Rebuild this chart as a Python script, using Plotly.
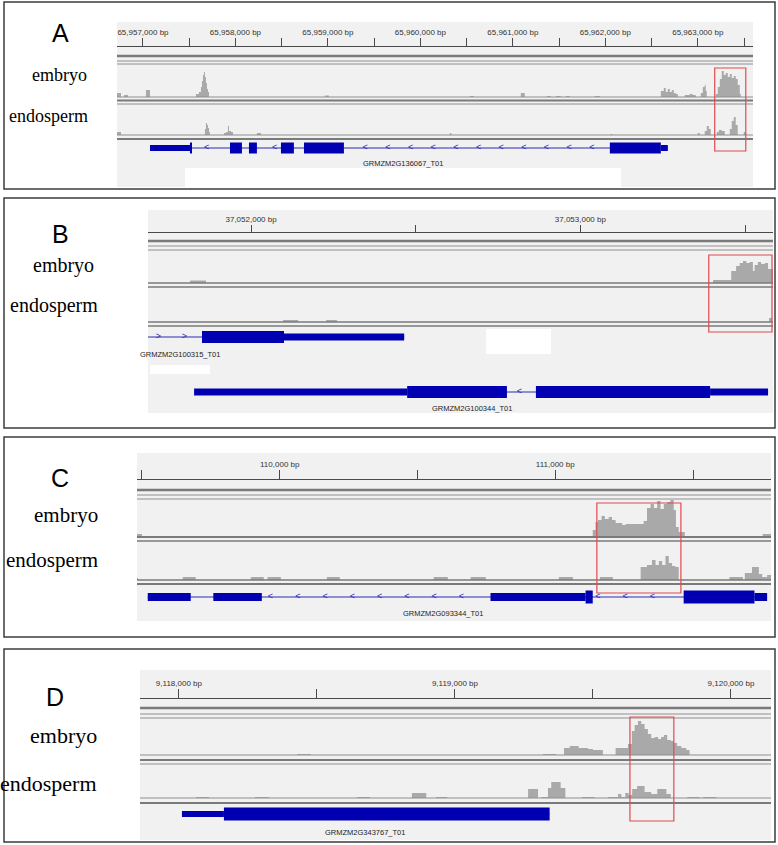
import plotly.graph_objects as go

W, H = 778, 845

# ======================= DATA =======================
# ---------- Panel A ----------
A_range = [65956719, 65963597]
A_major = [65957000, 65958000, 65959000, 65960000, 65961000, 65962000, 65963000]
A_minor = [65957500, 65958500, 65959500, 65960500, 65961500, 65962500, 65963500]
A_emb_pos = [65956719, 65956762, 65956795, 65956838, 65957032, 65957076, 65957573, 65957605,
             65957627, 65957638, 65957649, 65957659, 65957670, 65957681, 65957692, 65957703,
             65957714, 65958967, 65959011, 65960535, 65960578, 65961086, 65961129, 65961367,
             65961410, 65961465, 65961519, 65961573, 65961616, 65961886, 65961940, 65962600,
             65962632, 65962654, 65962675, 65962697, 65962719, 65962740, 65962762, 65962784,
             65962859, 65962913, 65962946, 65962978, 65963032, 65963054, 65963075, 65963086,
             65963097, 65963194, 65963216, 65963238, 65963259, 65963281, 65963302, 65963324,
             65963346, 65963367, 65963389, 65963410, 65963432, 65963454, 65963465]
A_emb_depth = [4, 0, 2, 0, 7, 0, 3, 5, 10, 16, 22, 25, 20, 14, 8, 5, 0, 1.5, 0, 1, 0, 4, 0,
               1, 0, 1, 0, 1, 0, 1, 0, 6, 9, 5, 8, 5, 7, 4, 3, 0, 2, 3, 2, 0, 4, 10, 12, 6, 0,
               3, 10, 18, 26, 22, 24, 20, 23, 19, 21, 18, 12, 3, 0]
A_end_pos = [65956719, 65956762, 65957670, 65957681, 65957692, 65957703, 65957714, 65957724,
             65957876, 65957897, 65957919, 65957930, 65957951, 65957973, 65958232, 65958276,
             65960319, 65960335, 65962059, 65962075, 65962999, 65963021, 65963075, 65963097,
             65963119, 65963140, 65963205, 65963227, 65963259, 65963292, 65963346, 65963367,
             65963389, 65963410, 65963432, 65963497, 65963519]
A_end_depth = [3, 0, 6, 12, 10, 7, 3, 0, 2, 3, 9, 4, 3, 0, 2, 0, 2, 0, 1, 0, 2, 0, 4, 9, 6, 0,
               3, 5, 4, 0, 6, 14, 18, 10, 0, 3, 0]
A_gene_names = ["GRMZM2G136067_T01"]
A_gene_strand = ["-"]
A_gene_start = [65957076]
A_gene_end = [65962676]
A_cds_start = [[65957508, 65957941, 65958146, 65958492, 65958741, 65962049]]
A_cds_end = [[65957530, 65958070, 65958232, 65958632, 65959173, 65962600]]
A_utr_start = [[65957076, 65962600]]
A_utr_end = [[65957508, 65962676]]
A_label_pos = [65959812]
A_highlight = [65963183, 65963519]

# ---------- Panel B ----------
B_range = [37051687, 37053585]
B_major = [37052000, 37053000]
B_minor = [37052500, 37053500]
B_emb_pos = [37051815, 37051863, 37053403, 37053458, 37053473, 37053484, 37053494, 37053504,
             37053514, 37053524, 37053529, 37053539, 37053549, 37053560, 37053570, 37053585]
B_emb_depth = [2.5, 0, 3, 12, 17, 20, 22, 20, 21, 12, 18, 21, 19, 20, 14, 0]
B_end_pos = [37052097, 37052143, 37052228, 37052261, 37053573, 37053582]
B_end_depth = [2, 0, 2, 0, 4, 0]
B_gene_names = ["GRMZM2G100315_T01", "GRMZM2G100344_T01"]
B_gene_strand = ["+", "-"]
B_gene_start = [37051600, 37051827]
B_gene_end = [37052465, 37053570]
B_cds_start = [[37051851], [37052474, 37052865]]
B_cds_end = [[37052100], [37052777, 37053394]]
B_utr_start = [[37052100], [37051827, 37053394]]
B_utr_end = [[37052465], [37052474, 37053570]]
B_label_pos = [37051784, 37052671]
B_highlight = [37053390, 37053582]

# ---------- Panel C ----------
C_range = [109482, 111783]
C_major = [110000, 111000]
C_minor = [109500, 110500, 111500]
C_emb_pos = [109482, 109500, 111136, 111146, 111155, 111168, 111180, 111194, 111206, 111219,
             111243, 111255, 111291, 111321, 111333, 111346, 111358, 111370, 111382, 111394,
             111406, 111418, 111430, 111438, 111448, 111470, 111753, 111783]
C_emb_depth = [3, 0, 7, 15, 17, 21, 18, 20, 17, 14, 12, 13, 13, 16, 29, 33, 29, 36, 28, 33,
               35, 37, 27, 10, 5, 0, 3, 0]
C_end_pos = [109482, 109486, 109648, 109695, 109895, 109942, 109956, 110004, 110171, 110218,
             110559, 110610, 110693, 110748, 111013, 111064, 111162, 111209, 111310, 111333,
             111351, 111364, 111376, 111388, 111400, 111412, 111424, 111436, 111448, 111632,
             111681, 111688, 111714, 111739, 111751, 111769, 111783]
C_end_depth = [2, 0, 3, 0, 3, 0, 3, 0, 3, 0, 3, 0, 3, 0, 3, 0, 3, 0, 13, 15, 20, 15, 19, 15,
               24, 17, 14, 13, 0, 3, 0, 7, 13, 6, 3, 5, 0]
C_gene_names = ["GRMZM2G093344_T01"]
C_gene_strand = ["-"]
C_gene_start = [109521]
C_gene_end = [111769]
C_cds_start = [[111110, 111466]]
C_cds_end = [[111136, 111723]]
C_utr_start = [[109521, 109759, 110765, 111723]]
C_utr_end = [[109677, 109935, 111110, 111769]]
C_label_pos = [110592]
C_highlight = [111151, 111456]

# ---------- Panel D ----------
D_range = [9117859, 9120145]
D_major = [9118000, 9119000, 9120000]
D_minor = [9118500, 9119500]
D_emb_pos = [9118428, 9118478, 9119319, 9119367, 9119395, 9119416, 9119448, 9119482, 9119500,
             9119536, 9119582, 9119627, 9119641, 9119651, 9119663, 9119675, 9119687, 9119699,
             9119711, 9119724, 9119736, 9119747, 9119757, 9119769, 9119782, 9119793, 9119805,
             9119820, 9119838, 9119850]
D_emb_depth = [1, 0, 1, 0, 7, 9, 7, 6, 5, 0, 7, 11, 24, 30, 34, 31, 26, 21, 17, 18, 16, 18,
               20, 15, 14, 12, 9, 7, 5, 0]
D_end_pos = [9118062, 9118109, 9118275, 9118326, 9118645, 9118692, 9118844, 9118896, 9118932,
             9118972, 9119265, 9119301, 9119313, 9119337, 9119349, 9119383, 9119400, 9119460,
             9119506, 9119554, 9119591, 9119603, 9119617, 9119629, 9119642, 9119660, 9119687,
             9119711, 9119733, 9119766, 9119782, 9119842, 9119887, 9119899, 9119947]
D_end_depth = [1, 0, 1, 0, 1, 0, 5, 0, 1, 0, 9, 0, 1, 10, 16, 10, 0, 1, 0, 1, 4, 1, 5, 3, 9,
               12, 6, 4, 9, 4, 0, 1, 0, 1, 0]
D_gene_names = ["GRMZM2G343767_T01"]
D_gene_strand = ["+"]
D_gene_start = [9118011]
D_gene_end = [9119343]
D_cds_start = [[9118163]]
D_cds_end = [[9119343]]
D_utr_start = [[9118011]]
D_utr_end = [[9118163]]
D_label_pos = [9118674]
D_highlight = [9119634, 9119793]

# ======================= LAYOUT (pixel positions / styles) =======================
panels = [
    dict(letter="A", rng=A_range, major=A_major, minor=A_minor,
         emb=(A_emb_pos, A_emb_depth), end=(A_end_pos, A_end_depth),
         genes=(A_gene_names, A_gene_strand, A_gene_start, A_gene_end,
                A_cds_start, A_cds_end, A_utr_start, A_utr_end, A_label_pos),
         hl=A_highlight,
         box=(2, 189), bg=(117, 22, 753, 187), white=[(185, 168, 621, 187)],
         ruler=46, ticklen=8,
         lines=[(56, 2.5), (61, 1), (64, 1), (97, 1), (100.5, 2), (104, 1), (135, 1), (139, 2)],
         embY=(64, 97), endY=(104, 135), rows=[148], labY=[163], hlY=(68, 151),
         cdsH=11, utrH=6, step=245,
         letterXY=(60, 33), embXY=(89, 75), endXY=(90, 116), fs=18),
    dict(letter="B", rng=B_range, major=B_major, minor=B_minor,
         emb=(B_emb_pos, B_emb_depth), end=(B_end_pos, B_end_depth),
         genes=(B_gene_names, B_gene_strand, B_gene_start, B_gene_end,
                B_cds_start, B_cds_end, B_utr_start, B_utr_end, B_label_pos),
         hl=B_highlight,
         box=(198, 428), bg=(148, 210, 773, 413),
         white=[(486, 329, 551, 354), (150, 365, 210, 374)],
         ruler=232, ticklen=7,
         lines=[(241, 2.5), (246, 1), (250, 1), (283, 1.5), (287, 1.5), (322, 1.5), (326, 1.5)],
         embY=(250, 283), endY=(287, 322), rows=[337, 392], labY=[354, 408], hlY=(255, 332),
         cdsH=12, utrH=7, step=79,
         letterXY=(60, 234), embXY=(96, 265), endXY=(100, 305), fs=20),
    dict(letter="C", rng=C_range, major=C_major, minor=C_minor,
         emb=(C_emb_pos, C_emb_depth), end=(C_end_pos, C_end_depth),
         genes=(C_gene_names, C_gene_strand, C_gene_start, C_gene_end,
                C_cds_start, C_cds_end, C_utr_start, C_utr_end, C_label_pos),
         hl=C_highlight,
         box=(437, 637), bg=(137, 453, 771, 621), white=[],
         ruler=479, ticklen=9,
         lines=[(490, 2.5), (495, 1), (499, 1), (537, 2), (541, 1.5), (580, 1.5), (584, 2)],
         embY=(499, 537), endY=(541, 580), rows=[597], labY=[613], hlY=(503, 593),
         cdsH=13, utrH=8, step=99,
         letterXY=(60, 478), embXY=(100, 515), endXY=(100, 560), fs=21),
    dict(letter="D", rng=D_range, major=D_major, minor=D_minor,
         emb=(D_emb_pos, D_emb_depth), end=(D_end_pos, D_end_depth),
         genes=(D_gene_names, D_gene_strand, D_gene_start, D_gene_end,
                D_cds_start, D_cds_end, D_utr_start, D_utr_end, D_label_pos),
         hl=D_highlight,
         box=(649, 842), bg=(140, 670, 771, 840), white=[],
         ruler=698, ticklen=9,
         lines=[(708, 2.5), (714, 1), (718, 1), (755, 1), (760, 2), (764, 1), (798, 1), (803, 2)],
         embY=(718, 755), endY=(764, 798), rows=[814], labY=[832], hlY=(717, 821),
         cdsH=13, utrH=6, step=99,
         letterXY=(55, 697), embXY=(99, 735), endXY=(99, 783), fs=22),
]

GENE_BLUE = "#0000b2"
INTRON_BLUE = "#2a2ab4"
COV_GRAY = "#a9a9a9"
BG = "#f1f1f1"


def P(py):
    return 1 - py / H


def Q(px):
    return px / W


def axname(prefix, n):
    return prefix if n == 1 else f"{prefix}{n}"


def axkey(prefix, n):
    return f"{prefix}axis" if n == 1 else f"{prefix}axis{n}"


fig = go.Figure()
shapes = []
annotations = []
layout_axes = {}

for i, p in enumerate(panels):
    xn = i + 1
    xa = axname("x", xn)
    ye, yn, yg = 3 * i + 1, 3 * i + 2, 3 * i + 3
    L, T, R, B = p["bg"]
    bp_per_px = (p["rng"][1] - p["rng"][0]) / (R - L)

    # panel frame
    shapes.append(dict(type="rect", xref="paper", yref="paper", x0=Q(4), x1=Q(775),
                       y0=P(p["box"][1]), y1=P(p["box"][0]),
                       line=dict(color="#3c3c3c", width=1.5), fillcolor="rgba(0,0,0,0)", layer="above"))
    # screenshot background
    shapes.append(dict(type="rect", xref="paper", yref="paper", x0=Q(L), x1=Q(R), y0=P(B), y1=P(T),
                       line=dict(width=0), fillcolor=BG, layer="below"))
    for (wx0, wy0, wx1, wy1) in p["white"]:
        shapes.append(dict(type="rect", xref="paper", yref="paper", x0=Q(wx0), x1=Q(wx1),
                           y0=P(wy1), y1=P(wy0), line=dict(width=0), fillcolor="white", layer="below"))
    # track separator lines
    for (ly, lw) in p["lines"]:
        col = "#7a7a7a" if lw >= 1.5 else "#8f8f8f"
        shapes.append(dict(type="line", xref="paper", yref="paper", x0=Q(L), x1=Q(R),
                           y0=P(ly), y1=P(ly), line=dict(color=col, width=lw), layer="above"))

    # axes
    tickvals = p["major"] + p["minor"]
    ticktext = [f"{v:,} bp" for v in p["major"]] + [""] * len(p["minor"])
    layout_axes[axkey("x", xn)] = dict(
        domain=[Q(L), Q(R)], range=p["rng"], anchor="free", position=P(p["ruler"]), side="top",
        showline=True, linecolor="#4a4a4a", linewidth=1, ticks="outside", ticklen=p["ticklen"],
        tickwidth=1, tickcolor="#4a4a4a", tickmode="array", tickvals=tickvals, ticktext=ticktext,
        tickfont=dict(family="Arial", size=8, color="#333333"), showgrid=False, zeroline=False,
        fixedrange=True)
    eT, eB = p["embY"]
    nT, nB = p["endY"]
    layout_axes[axkey("y", ye)] = dict(domain=[P(eB), P(eT)], range=[0, eB - eT], visible=False,
                                       anchor=xa, fixedrange=True)
    layout_axes[axkey("y", yn)] = dict(domain=[P(nB), P(nT)], range=[0, nB - nT], visible=False,
                                       anchor=xa, fixedrange=True)
    layout_axes[axkey("y", yg)] = dict(domain=[P(p["box"][1]), P(p["box"][0])],
                                       range=[p["box"][1], p["box"][0]], visible=False,
                                       anchor=xa, fixedrange=True)

    # coverage tracks
    for (pos, dep), yid in ((p["emb"], ye), (p["end"], yn)):
        fig.add_trace(go.Scatter(x=pos, y=dep, mode="lines", line=dict(width=0, shape="hv", color=COV_GRAY),
                                 fill="tozeroy", fillcolor=COV_GRAY, xaxis=xa, yaxis=axname("y", yid),
                                 hoverinfo="skip", showlegend=False))

    # gene models
    names, strands, gs, ge, cs, ce, us, ue, labpos = p["genes"]
    ygr = axname("y", yg)
    white_x, white_y, blue_x, blue_y = [], [], [], []
    glyphs_w, glyphs_b = [], []
    for g in range(len(names)):
        row = p["rows"][g]
        x0 = max(gs[g], p["rng"][0])
        x1 = min(ge[g], p["rng"][1])
        shapes.append(dict(type="line", xref=xa, yref=ygr, x0=x0, x1=x1, y0=row, y1=row,
                           line=dict(color=INTRON_BLUE, width=1)))
        blocks = []
        for s, e in zip(us[g], ue[g]):
            blocks.append((s, e, p["utrH"]))
        for s, e in zip(cs[g], ce[g]):
            blocks.append((s, e, p["cdsH"]))
        for s, e, h in blocks:
            shapes.append(dict(type="rect", xref=xa, yref=ygr, x0=s, x1=e, y0=row - h / 2, y1=row + h / 2,
                               fillcolor=GENE_BLUE, line=dict(width=0)))
        glyph = "<" if strands[g] == "-" else ">"
        margin = 5 * bp_per_px
        k = 0
        while True:
            xpos = gs[g] + p["step"] * (k + 0.5)
            k += 1
            if xpos >= ge[g]:
                break
            inside = None
            near = False
            for s, e, h in blocks:
                if s <= xpos <= e:
                    inside = (s, e, h)
                if abs(xpos - s) < margin or abs(xpos - e) < margin:
                    near = True
            if near:
                continue
            if inside is None:
                blue_x.append(xpos); blue_y.append(row); glyphs_b.append(glyph)
            elif inside[2] >= 8:
                white_x.append(xpos); white_y.append(row); glyphs_w.append(glyph)
        annotations.append(dict(x=labpos[g], y=p["labY"][g], xref=xa, yref=ygr, text=names[g],
                                showarrow=False, font=dict(family="Arial", size=7.5, color="#222222"),
                                xanchor="center", yanchor="middle"))
    fig.add_trace(go.Scatter(x=blue_x, y=blue_y, mode="text", text=glyphs_b,
                             textfont=dict(family="Arial", size=9, color=INTRON_BLUE),
                             xaxis=xa, yaxis=ygr, hoverinfo="skip", showlegend=False))
    fig.add_trace(go.Scatter(x=white_x, y=white_y, mode="text", text=glyphs_w,
                             textfont=dict(family="Arial", size=9, color="white"),
                             xaxis=xa, yaxis=ygr, hoverinfo="skip", showlegend=False))

    # red highlight box
    shapes.append(dict(type="rect", xref=xa, yref=ygr, x0=p["hl"][0], x1=p["hl"][1],
                       y0=p["hlY"][1], y1=p["hlY"][0], line=dict(color="#e04a4f", width=1.2),
                       fillcolor="rgba(0,0,0,0)"))

    # left labels
    lx, ly = p["letterXY"]
    annotations.append(dict(x=Q(lx), y=P(ly), xref="paper", yref="paper", text=p["letter"],
                            showarrow=False, font=dict(family="Arial", size=25, color="black"),
                            xanchor="center", yanchor="middle"))
    for txt, (tx, ty) in (("embryo", p["embXY"]), ("endosperm", p["endXY"])):
        annotations.append(dict(x=Q(tx), y=P(ty), xref="paper", yref="paper", text=txt,
                                showarrow=False,
                                font=dict(family="Times New Roman, Liberation Serif, serif",
                                          size=p["fs"], color="black"),
                                xanchor="right", yanchor="middle"))

fig.update_layout(
    width=W, height=H, margin=dict(l=0, r=0, t=0, b=0),
    paper_bgcolor="white", plot_bgcolor="rgba(0,0,0,0)",
    showlegend=False, hovermode=False,
    shapes=shapes, annotations=annotations, **layout_axes)

fig.write_html("out.html", config={"displayModeBar": False},
               post_script="document.body.style.margin='0px';document.body.style.overflow='hidden';")
